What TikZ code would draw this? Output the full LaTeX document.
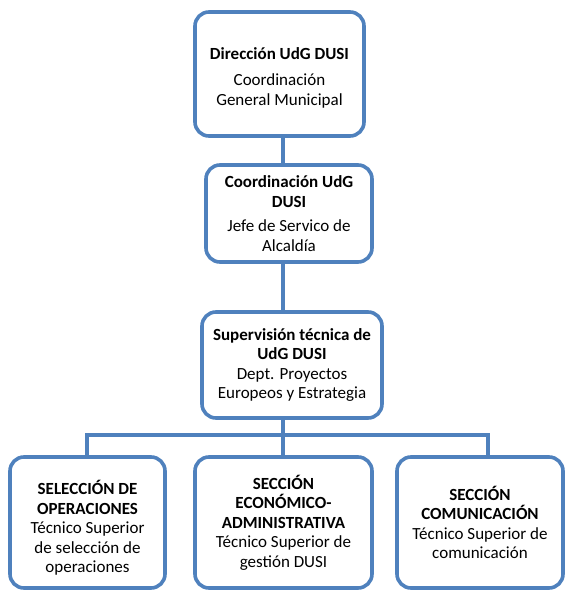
\documentclass[tikz,border=0pt]{standalone}
\usepackage{fontspec}
\setmainfont{Carlito}
\usepackage{xcolor}
\usepackage{tikz}

\definecolor{udgblue}{HTML}{4F81BD}

\begin{document}
\begin{tikzpicture}[x=1pt,y=-1pt,
  box/.style={draw=udgblue, line width=3.6pt, rounded corners=14pt, fill=white,
    align=center, inner sep=0pt, font=\fontsize{17}{19.5}\selectfont},
  link/.style={draw=udgblue, line width=3.6pt}]
\useasboundingbox (0,0) rectangle (565,591);
% axis of the vertical links
\coordinate (axis) at (283,0);
\coordinate (bar) at (0,435);
\coordinate (left) at (87,0);
\coordinate (right) at (488,0);
% boxes
\node [box, minimum width=169pt, minimum height=124pt] (dir) at (279.5,74)
  {\rule{0pt}{19pt}\textbf{Dirección UdG DUSI}\\[7pt]Coordinación\\General Municipal};
\node [box, minimum width=166pt, minimum height=97pt] (coo) at (289,213.5)
  {\textbf{Coordinación UdG}\\\textbf{DUSI}\\[5pt]Jefe de Servico de\\Alcaldía};
\node [box, minimum width=180pt, minimum height=106pt] (sup) at (292,365)
  {\textbf{Supervisión técnica de}\\\textbf{UdG DUSI}\\Dept. Proyectos\\Europeos y Estrategia};
\node [box, minimum width=155pt, minimum height=131pt] (sel) at (87.5,522.5)
  {\rule{0pt}{25pt}\textbf{SELECCIÓN DE}\\\textbf{OPERACIONES}\\Técnico Superior\\de selección de\\operaciones};
\node [box, minimum width=177pt, minimum height=131pt] (eco) at (283.5,522.5)
  {\textbf{SECCIÓN}\\\textbf{ECONÓMICO-}\\\textbf{ADMINISTRATIVA}\\Técnico Superior de\\gestión DUSI};
\node [box, minimum width=166pt, minimum height=131pt] (com) at (480,522.5)
  {\textbf{SECCIÓN}\\\textbf{COMUNICACIÓN}\\Técnico Superior de\\comunicación};
% links
\draw [link] (dir.south -| axis) -- (coo.north -| axis);
\draw [link] (coo.south -| axis) -- (sup.north -| axis);
\draw [link] (sup.south -| axis) -- (bar -| axis);
\draw [link] (sel.north -| left) -- (bar -| left) -- (bar -| right) -- (com.north -| right);
\draw [link] (bar -| axis) -- (eco.north -| axis);
\end{tikzpicture}
\end{document}
